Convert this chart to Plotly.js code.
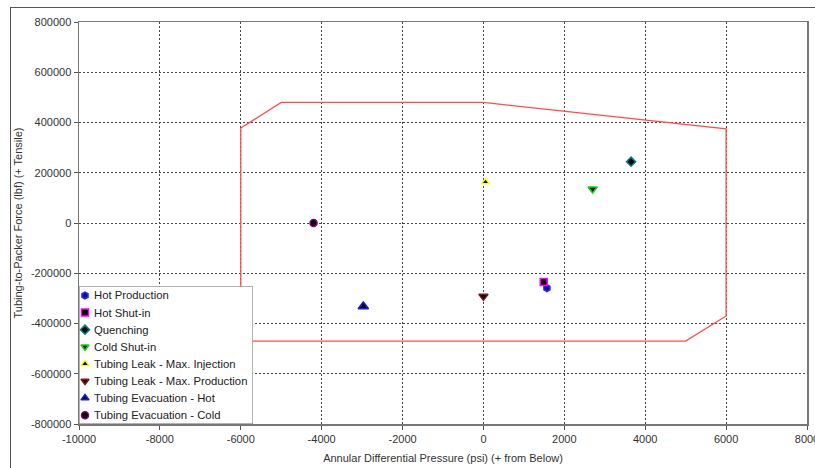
<!DOCTYPE html>
<html>
<head>
<meta charset="utf-8">
<script src="https://cdn.plot.ly/plotly-3.0.1.min.js"></script>
<style>
html,body{margin:0;padding:0;background:#fff;}
#wrap{position:relative;width:815px;height:468px;overflow:hidden;}
#chart{position:absolute;left:0;top:0;width:815px;height:468px;}
#frame{position:absolute;left:10px;top:7px;width:820px;height:480px;border-left:1.5px solid #555;border-top:1.5px solid #555;pointer-events:none;}
</style>
</head>
<body>
<div id="wrap"><div id="chart"></div><div id="frame"></div></div>
<script>
// Operating envelope (Annular Differential Pressure psi, Tubing-to-Packer force lbf)
const envelopeX = [-6000, -5000, 0, 6000, 6000, 5000, -6000, -6000];
const envelopeY = [378000, 480000, 480000, 375000, -370000, -470000, -470000, 378000];

// Load cases
const caseNames = ["Hot Production", "Hot Shut-in", "Quenching", "Cold Shut-in",
  "Tubing Leak - Max. Injection", "Tubing Leak - Max. Production",
  "Tubing Evacuation - Hot", "Tubing Evacuation - Cold"];
const caseX = [1570, 1490, 3650, 2700, 50, 0, -2970, -4200];
const caseY = [-259000, -235000, 244000, 135000, 163000, -292000, -332000, 0];
const caseSymbols = ["hexagon", "square", "diamond", "triangle-down", "triangle-up", "triangle-down", "triangle-up", "circle"];
const caseSizes = [7, 7, 7, 8, 7, 8, 9, 7];
const caseFill = ["#1010a0", "#000000", "#000000", "#000000", "#000000", "#000000", "#000030", "#000000"];
const caseLine = ["#2a2aff", "#ff00ff", "#008080", "#00e000", "#ffff00", "#8b1010", "#1a1ad0", "#800080"];

const tickX = [-10000, -8000, -6000, -4000, -2000, 0, 2000, 4000, 6000, 8000];
const tickY = [-800000, -600000, -400000, -200000, 0, 200000, 400000, 600000, 800000];

// legend box geometry in its own pixel-like axes
const LW = 174, LH = 137.5, LTOP = 9, LSTEP = 17.1, LMX = 6, LTX = 12.5;
const plotW = 815 - 79 - 8, plotH = 468 - 22 - 44;

const traces = [{
  x: envelopeX, y: envelopeY, mode: "lines", type: "scatter",
  line: {color: "#ff4d4d", width: 1.3}, showlegend: false, hoverinfo: "skip"
}];
for (let i = 0; i < caseNames.length; i++) {
  traces.push({
    x: [caseX[i]], y: [caseY[i]], mode: "markers", type: "scatter", name: caseNames[i],
    showlegend: false,
    marker: {symbol: caseSymbols[i], size: caseSizes[i], color: caseFill[i], line: {color: caseLine[i], width: 1.5}}
  });
}
// legend swatches
const annotations = [];
for (let i = 0; i < caseNames.length; i++) {
  traces.push({
    x: [LMX], y: [LTOP + LSTEP * i], xaxis: "x2", yaxis: "y2",
    mode: "markers", type: "scatter", showlegend: false, cliponaxis: false, hoverinfo: "skip",
    marker: {symbol: caseSymbols[i], size: 7, color: caseFill[i], line: {color: caseLine[i], width: 1.5}}
  });
  annotations.push({
    xref: "x2", yref: "y2", x: LTX, y: LTOP + LSTEP * i, text: caseNames[i],
    xanchor: "left", yanchor: "middle", showarrow: false,
    font: {family: "Liberation Sans, Arial, sans-serif", size: 11.3, color: "#222"}
  });
}

const axisCommon = {
  showline: true, mirror: true, linecolor: "#777", linewidth: 1.5,
  ticks: "outside", ticklen: 4, tickcolor: "#555", tickwidth: 1,
  showgrid: true, gridcolor: "#444", gridwidth: 1, griddash: "2px,2px",
  zeroline: false, ticklabeloverflow: "allow",
  tickfont: {family: "Liberation Sans, Arial, sans-serif", size: 11, color: "#333"}
};

const layout = {
  width: 815, height: 468,
  margin: {l: 79, r: 8, t: 22, b: 44},
  paper_bgcolor: "#fff", plot_bgcolor: "#fff",
  font: {family: "Liberation Sans, Arial, sans-serif", size: 11, color: "#333"},
  showlegend: false,
  xaxis: Object.assign({}, axisCommon, {
    range: [-10000, 8000], tickvals: tickX, ticktext: tickX.map(String),
    title: {text: "Annular Differential Pressure (psi) (+ from Below)", font: {size: 11, color: "#333"}, standoff: 10}
  }),
  yaxis: Object.assign({}, axisCommon, {
    range: [-800000, 800000], tickvals: tickY, ticktext: tickY.map(String),
    title: {text: "Tubing-to-Packer Force (lbf) (+ Tensile)", font: {size: 11, color: "#333"}, standoff: 6}
  }),
  xaxis2: {domain: [0, LW / plotW], range: [0, LW], visible: false, anchor: "y2", fixedrange: true},
  yaxis2: {domain: [0, LH / plotH], range: [LH, 0], visible: false, anchor: "x2", fixedrange: true},
  shapes: [{
    type: "rect", xref: "x2", yref: "y2", x0: 0, x1: LW, y0: 0, y1: LH,
    fillcolor: "#fff", line: {color: "#666", width: 1}, layer: "below"
  }],
  annotations: annotations
};

Plotly.newPlot("chart", traces, layout, {displayModeBar: false, staticPlot: true});
</script>
</body>
</html>
